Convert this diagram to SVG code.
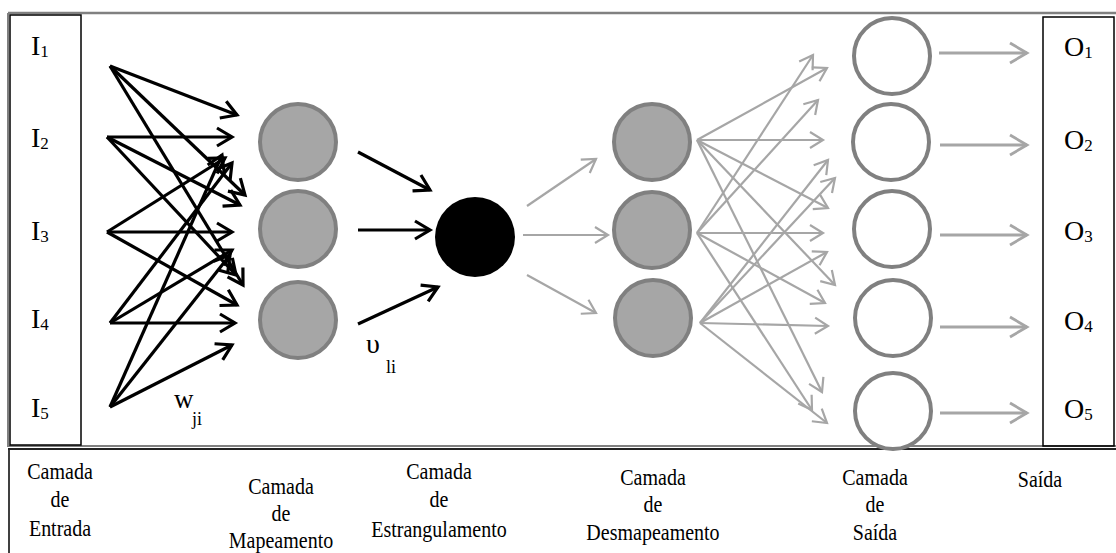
<svg xmlns="http://www.w3.org/2000/svg" width="1116" height="553" viewBox="0 0 1116 553">
<style>
.t{font-family:"Liberation Serif","Times New Roman",serif;fill:#000}
.lbl{font-size:28px}
.sub{font-size:17px}
.cap{font-size:20px;text-anchor:middle}
.map{fill:#a6a6a6;stroke:#808080;stroke-width:4}
.outn{fill:#fff;stroke:#808080;stroke-width:4}
.bk{stroke:#000;stroke-width:3.2;fill:none;marker-end:url(#ab)}
.gy{stroke:#a6a6a6;stroke-width:2.2;fill:none;marker-end:url(#ag)}
.gyb{stroke:#a6a6a6;stroke-width:2.8;fill:none;marker-end:url(#ag2)}
</style>
<defs>
<marker id="ab" markerUnits="userSpaceOnUse" viewBox="-18 -12 20 24" refX="0" refY="0" markerWidth="20" markerHeight="24" orient="auto" overflow="visible">
<path d="M-15,-9 L0,0 L-15,9" fill="none" stroke="#000" stroke-width="3.2"/>
</marker>
<marker id="ag" markerUnits="userSpaceOnUse" viewBox="-16 -10 18 20" refX="0" refY="0" markerWidth="18" markerHeight="20" orient="auto" overflow="visible">
<path d="M-13,-8 L0,0 L-13,8" fill="none" stroke="#a6a6a6" stroke-width="2.2"/>
</marker>
<marker id="ag2" markerUnits="userSpaceOnUse" viewBox="-20 -12 22 24" refX="0" refY="0" markerWidth="22" markerHeight="24" orient="auto" overflow="visible">
<path d="M-17,-10 L0,0 L-17,10" fill="none" stroke="#a6a6a6" stroke-width="2.8"/>
</marker>
</defs>
<rect width="1116" height="553" fill="#fff"/>
<g id="frame">
<line x1="8" y1="13" x2="1116" y2="13" stroke="#808080" stroke-width="2.5"/>
<line x1="8" y1="13" x2="8" y2="447" stroke="#808080" stroke-width="2"/>
<line x1="8" y1="446" x2="1116" y2="446" stroke="#808080" stroke-width="2"/>
<line x1="8" y1="449" x2="1116" y2="449" stroke="#222" stroke-width="2"/>
<line x1="9" y1="450" x2="9" y2="553" stroke="#000" stroke-width="1.5"/>
</g>
<g id="input-box">
<rect x="10" y="15" width="71" height="430" fill="none" stroke="#000" stroke-width="1.5"/>
<text class="t lbl" x="31" y="55">I<tspan class="sub" dy="2">1</tspan></text>
<text class="t lbl" x="31" y="147">I<tspan class="sub" dy="2">2</tspan></text>
<text class="t lbl" x="31" y="240">I<tspan class="sub" dy="2">3</tspan></text>
<text class="t lbl" x="31" y="328">I<tspan class="sub" dy="2">4</tspan></text>
<text class="t lbl" x="31" y="417">I<tspan class="sub" dy="2">5</tspan></text>
</g>
<g id="output-box">
<rect x="1043" y="17" width="71" height="429" fill="none" stroke="#000" stroke-width="1.5"/>
<text class="t lbl" x="1064" y="56">O<tspan class="sub" dy="2">1</tspan></text>
<text class="t lbl" x="1064" y="149">O<tspan class="sub" dy="2">2</tspan></text>
<text class="t lbl" x="1064" y="240">O<tspan class="sub" dy="2">3</tspan></text>
<text class="t lbl" x="1064" y="330">O<tspan class="sub" dy="2">4</tspan></text>
<text class="t lbl" x="1064" y="418">O<tspan class="sub" dy="2">5</tspan></text>
</g>
<g id="connectors">
<line class="bk" x1="110" y1="66" x2="237" y2="115"/>
<line class="bk" x1="110" y1="66" x2="245" y2="195"/>
<line class="bk" x1="110" y1="66" x2="243" y2="285"/>
<line class="bk" x1="107" y1="137" x2="232" y2="137"/>
<line class="bk" x1="107" y1="137" x2="240" y2="205"/>
<line class="bk" x1="107" y1="137" x2="236" y2="275"/>
<line class="bk" x1="107" y1="232" x2="225" y2="158"/>
<line class="bk" x1="107" y1="232" x2="232" y2="232"/>
<line class="bk" x1="107" y1="232" x2="237" y2="305"/>
<line class="bk" x1="110" y1="323" x2="232" y2="163"/>
<line class="bk" x1="110" y1="323" x2="232" y2="250"/>
<line class="bk" x1="110" y1="323" x2="235" y2="323"/>
<line class="bk" x1="110" y1="407" x2="222" y2="155"/>
<line class="bk" x1="110" y1="407" x2="230" y2="255"/>
<line class="bk" x1="110" y1="407" x2="232" y2="345"/>
<line class="bk" x1="358" y1="152" x2="430" y2="190"/>
<line class="bk" x1="358" y1="230" x2="430" y2="230"/>
<line class="bk" x1="358" y1="324" x2="438" y2="287"/>
<line class="gy" x1="527" y1="206" x2="596" y2="159"/>
<line class="gy" x1="523" y1="235" x2="608" y2="235"/>
<line class="gy" x1="527" y1="275" x2="596" y2="313"/>
<line class="gy" x1="697" y1="140" x2="827" y2="68"/>
<line class="gy" x1="697" y1="140" x2="823" y2="140"/>
<line class="gy" x1="697" y1="140" x2="828" y2="208"/>
<line class="gy" x1="697" y1="140" x2="835" y2="285"/>
<line class="gy" x1="697" y1="140" x2="822" y2="392"/>
<line class="gy" x1="697" y1="233" x2="813" y2="55"/>
<line class="gy" x1="697" y1="233" x2="818" y2="100"/>
<line class="gy" x1="697" y1="233" x2="823" y2="233"/>
<line class="gy" x1="697" y1="233" x2="825" y2="303"/>
<line class="gy" x1="697" y1="233" x2="812" y2="410"/>
<line class="gy" x1="700" y1="323" x2="828" y2="160"/>
<line class="gy" x1="700" y1="323" x2="835" y2="178"/>
<line class="gy" x1="700" y1="323" x2="827" y2="252"/>
<line class="gy" x1="700" y1="323" x2="828" y2="326"/>
<line class="gy" x1="700" y1="323" x2="827" y2="423"/>
<line class="gyb" x1="939" y1="53" x2="1027" y2="53"/>
<line class="gyb" x1="940" y1="145" x2="1027" y2="145"/>
<line class="gyb" x1="940" y1="235" x2="1027" y2="235"/>
<line class="gyb" x1="940" y1="327" x2="1027" y2="327"/>
<line class="gyb" x1="940" y1="413" x2="1027" y2="413"/>
</g>
<g id="mapping-1"><circle class="map" cx="298" cy="142" r="38"/></g>
<g id="mapping-2"><circle class="map" cx="298" cy="229" r="38"/></g>
<g id="mapping-3"><circle class="map" cx="298" cy="320" r="38"/></g>
<g id="bottleneck"><circle cx="475" cy="237" r="40" fill="#000"/></g>
<g id="demapping-1"><circle class="map" cx="652" cy="142" r="38"/></g>
<g id="demapping-2"><circle class="map" cx="652" cy="230" r="38"/></g>
<g id="demapping-3"><circle class="map" cx="653" cy="318" r="38"/></g>
<g id="out-1"><circle class="outn" cx="892" cy="56" r="38"/></g>
<g id="out-2"><circle class="outn" cx="891" cy="142" r="38"/></g>
<g id="out-3"><circle class="outn" cx="892" cy="229" r="38"/></g>
<g id="out-4"><circle class="outn" cx="893" cy="318" r="38"/></g>
<g id="out-5"><circle class="outn" cx="893" cy="411" r="38"/></g>
<g id="weights">
<text class="t" x="174" y="408" font-size="27">w</text>
<text class="t" x="192" y="425" font-size="18">ji</text>
<text class="t" x="366" y="353" font-size="28">υ</text>
<text class="t" x="386" y="373" font-size="18">li</text>
</g>
<g id="captions">
<text class="t cap" transform="translate(60,479) scale(1,1.15)">Camada</text>
<text class="t cap" transform="translate(60,507) scale(1,1.15)">de</text>
<text class="t cap" transform="translate(60,536) scale(1,1.15)">Entrada</text>
<text class="t cap" transform="translate(281,494) scale(1,1.15)">Camada</text>
<text class="t cap" transform="translate(281,521) scale(1,1.15)">de</text>
<text class="t cap" transform="translate(281,548) scale(1,1.15)">Mapeamento</text>
<text class="t cap" transform="translate(439,479) scale(1,1.15)">Camada</text>
<text class="t cap" transform="translate(439,507) scale(1,1.15)">de</text>
<text class="t cap" transform="translate(439,537) scale(1,1.15)">Estrangulamento</text>
<text class="t cap" transform="translate(653,485) scale(1,1.15)">Camada</text>
<text class="t cap" transform="translate(653,512) scale(1,1.15)">de</text>
<text class="t cap" transform="translate(653,540) scale(1,1.15)">Desmapeamento</text>
<text class="t cap" transform="translate(875,485) scale(1,1.15)">Camada</text>
<text class="t cap" transform="translate(875,512) scale(1,1.15)">de</text>
<text class="t cap" transform="translate(875,540) scale(1,1.15)">Saída</text>
<text class="t cap" transform="translate(1040,487) scale(1,1.15)">Saída</text>
</g>
</svg>
